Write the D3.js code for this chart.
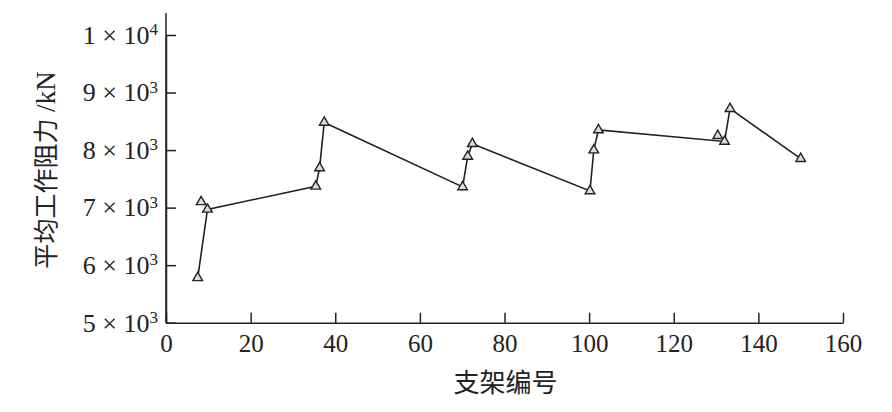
<!DOCTYPE html>
<html><head><meta charset="utf-8">
<script src="https://cdn.jsdelivr.net/npm/d3@7"></script>
<style>html,body{margin:0;padding:0;background:#fff;}</style>
</head><body>
<svg id="c" width="892" height="412"></svg>
<script>
// Data
const supportIds   = [7.5, 9.8, 35.4, 36.3, 37.4, 70.1, 71.3, 72.4, 100.2, 101.1, 102.2, 132.0, 133.3, 150.0];
const avgResistance= [5780, 6970, 7370, 7690, 8480, 7360, 7890, 8110, 7290, 8000, 8350, 8150, 8720, 7850];
// markers that sit beside the line (not joined)
const offLineIds    = [8.3, 130.4];
const offLineValues = [7100, 8250];
const xTicks = [0, 20, 40, 60, 80, 100, 120, 140, 160];
const yTicks = [5000, 6000, 7000, 8000, 9000, 10000];
const yMant = ["5","6","7","8","9","1"];
const yExp  = ["3","3","3","3","3","4"];
const xTitle = "支架编号";
const yTitleCJK = "平均工作阻力";
const yTitleUnit = " /kN";

const svg = d3.select("#c");
const L = 166, R = 843, B = 322.7, T0 = 35;
const x = d3.scaleLinear().domain([0,160]).range([L,R]);
const y = d3.scaleLinear().domain([5000,10000]).range([B,T0]);
const serif = "'Liberation Serif','Times New Roman',serif";
const ink = "#222";

// y axis extended line to top
svg.append("line").attr("x1",L).attr("x2",L).attr("y1",13).attr("y2",B)
  .attr("stroke",ink).attr("stroke-width",1.5);

const gx = svg.append("g").attr("transform",`translate(0,${B})`)
  .call(d3.axisBottom(x).tickValues(xTicks).tickSizeInner(-10).tickSizeOuter(0).tickPadding(12));
const gy = svg.append("g").attr("transform",`translate(${L},0)`)
  .call(d3.axisLeft(y).tickValues(yTicks).tickSizeInner(-10).tickSizeOuter(0).tickPadding(8).tickFormat(""));

[gx,gy].forEach(g=>{
  g.select(".domain").attr("stroke",ink).attr("stroke-width",1.5);
  g.selectAll(".tick line").attr("stroke",ink).attr("stroke-width",1.5);
  g.selectAll("text").attr("fill",ink).style("font-family",serif).style("font-size","25px");
});
gy.selectAll("text").style("font-size","26px");

gy.selectAll(".tick text").each(function(d,i){
  const t = d3.select(this).attr("dy","0.32em");
  t.text(null);
  t.append("tspan").text(yMant[i] + " × 10");
  t.append("tspan").attr("dy","-0.5em").style("font-size","17px").text(yExp[i]);
});

// line
const line = d3.line().x((d,i)=>x(supportIds[i])).y(d=>y(d));
svg.append("path").datum(avgResistance).attr("d",line)
  .attr("fill","none").attr("stroke",ink).attr("stroke-width",1.6);

const tri = d3.symbol().type(d3.symbolTriangle).size(40);
svg.append("g").selectAll("path.m").data(avgResistance).join("path")
  .attr("transform",(d,i)=>`translate(${x(supportIds[i])},${y(d)})`)
  .attr("d",tri).attr("fill","#dcdcdc").attr("stroke",ink).attr("stroke-width",1.4);
svg.append("g").selectAll("path.o").data(offLineValues).join("path")
  .attr("transform",(d,i)=>`translate(${x(offLineIds[i])},${y(d)})`)
  .attr("d",tri).attr("fill","#dcdcdc").attr("stroke",ink).attr("stroke-width",1.4);

// titles
svg.append("text").attr("x",(L+R)/2+1).attr("y",392).attr("text-anchor","middle")
  .style("font-family","'Noto Sans CJK SC',sans-serif").style("font-size","26px").attr("fill",ink)
  .text(xTitle);
const yt = svg.append("text").attr("transform","translate(55,170) rotate(-90)")
  .attr("text-anchor","middle").attr("fill",ink);
yt.append("tspan").style("font-family","'Noto Sans CJK SC',sans-serif").style("font-size","25px").text(yTitleCJK);
yt.append("tspan").style("font-family",serif).style("font-size","27px").text(yTitleUnit);
</script>
</body></html>
